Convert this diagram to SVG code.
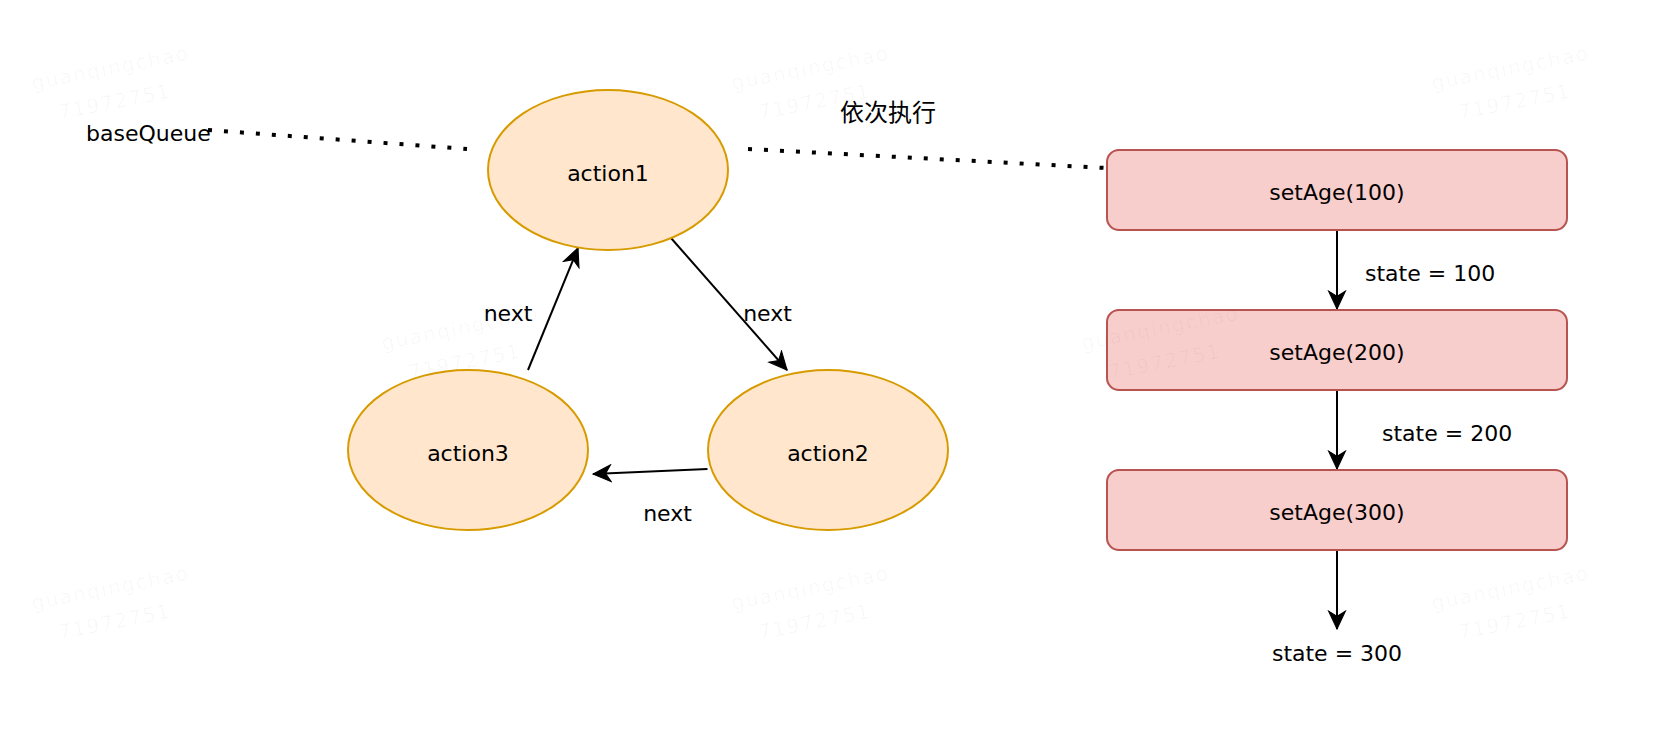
<svg xmlns="http://www.w3.org/2000/svg" width="1664" height="732" viewBox="0 0 1664 732">
  <style>
    .lbl { font-family: "DejaVu Sans", "Noto Sans", sans-serif; font-size: 22px; fill: #000; }
    .cjk { font-family: "Noto Sans CJK SC", "Noto Sans", sans-serif; font-size: 24px; fill: #000; }
    .ell { fill: #ffe6cc; stroke: #d79b00; stroke-width: 2; }
    .box { fill: #f8cecc; stroke: #b85450; stroke-width: 2; }
    .edge { fill: none; stroke: #000; stroke-width: 2; }
    .dot { fill: none; stroke: #000; stroke-width: 4; stroke-dasharray: 4 12; }
    .wm { font-family: "DejaVu Sans", sans-serif; font-size: 20px; letter-spacing: 1.5px; fill: #000; fill-opacity: 0.03; }
  </style>
  <defs>
    <marker id="arrow" markerUnits="userSpaceOnUse" markerWidth="20" markerHeight="20" viewBox="-18 -9 19 18" refX="0" refY="0" orient="auto">
      <path d="M0,0 L-17,-8 L-12,0 L-17,8 Z" fill="#000" stroke="#000" stroke-width="1" stroke-linejoin="miter"/>
    </marker>
    <g id="wmark">
      <g transform="rotate(-11 33 90)">
        <text class="wm" x="33" y="90">guanqingchao</text>
        <text class="wm" x="54" y="124">71972751</text>
      </g>
    </g>
  </defs>
  <rect width="1664" height="732" fill="#fff"/>

  <g id="connectors">
    <path class="dot" d="M208,130 L467,149"/>
    <path class="dot" d="M748,149 L1106,168"/>
    <path class="edge" d="M671,238 L787,370" marker-end="url(#arrow)"/>
    <path class="edge" d="M707.5,469 L593,474" marker-end="url(#arrow)"/>
    <path class="edge" d="M528,370 L578,248" marker-end="url(#arrow)"/>
    <path class="edge" d="M1337,230 L1337,309" marker-end="url(#arrow)"/>
    <path class="edge" d="M1337,390 L1337,469" marker-end="url(#arrow)"/>
    <path class="edge" d="M1337,550 L1337,629" marker-end="url(#arrow)"/>
    <text class="lbl" x="508" y="321" text-anchor="middle">next</text>
    <text class="lbl" x="767.5" y="321" text-anchor="middle">next</text>
    <text class="lbl" x="667.5" y="521" text-anchor="middle">next</text>
    <text class="lbl" x="1365" y="281">state = 100</text>
    <text class="lbl" x="1382" y="441">state = 200</text>
  </g>

  <g id="baseQueue">
    <text class="lbl" x="86" y="141">baseQueue</text>
  </g>
  <g id="order-label">
    <text class="cjk" x="840" y="121">依次执行</text>
  </g>

  <g id="action1">
    <ellipse class="ell" cx="608" cy="170" rx="120" ry="80"/>
    <text class="lbl" x="608" y="181" text-anchor="middle">action1</text>
  </g>
  <g id="action2">
    <ellipse class="ell" cx="828" cy="450" rx="120" ry="80"/>
    <text class="lbl" x="828" y="461" text-anchor="middle">action2</text>
  </g>
  <g id="action3">
    <ellipse class="ell" cx="468" cy="450" rx="120" ry="80"/>
    <text class="lbl" x="468" y="461" text-anchor="middle">action3</text>
  </g>

  <g id="setAge100">
    <rect class="box" x="1107" y="150" width="460" height="80" rx="12" ry="12"/>
    <text class="lbl" x="1337" y="200" text-anchor="middle">setAge(100)</text>
  </g>
  <g id="setAge200">
    <rect class="box" x="1107" y="310" width="460" height="80" rx="12" ry="12"/>
    <text class="lbl" x="1337" y="360" text-anchor="middle">setAge(200)</text>
  </g>
  <g id="setAge300">
    <rect class="box" x="1107" y="470" width="460" height="80" rx="12" ry="12"/>
    <text class="lbl" x="1337" y="520" text-anchor="middle">setAge(300)</text>
  </g>
  <g id="state300">
    <text class="lbl" x="1337" y="661" text-anchor="middle">state = 300</text>
  </g>

  <g id="watermarks">
    <use href="#wmark"/>
    <use href="#wmark" x="700" y="0"/>
    <use href="#wmark" x="1400" y="0"/>
    <use href="#wmark" x="350" y="260"/>
    <use href="#wmark" x="1050" y="260"/>
    <use href="#wmark" x="0" y="520"/>
    <use href="#wmark" x="700" y="520"/>
    <use href="#wmark" x="1400" y="520"/>
  </g>
</svg>
